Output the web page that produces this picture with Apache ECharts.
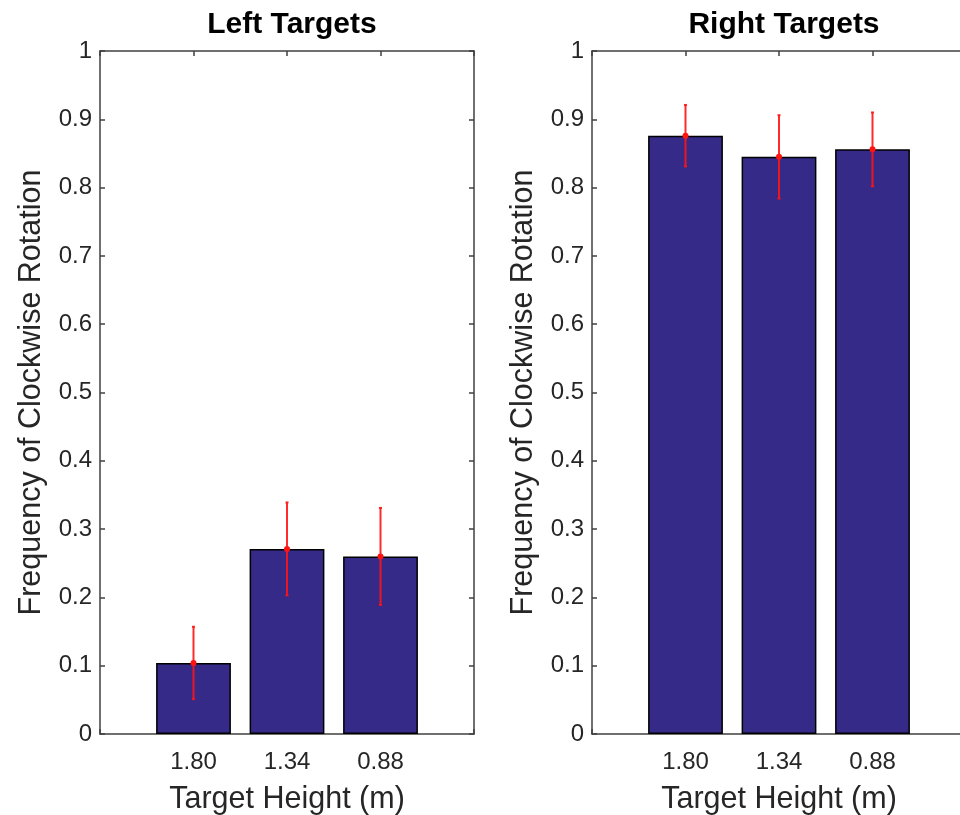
<!DOCTYPE html>
<html>
<head>
<meta charset="utf-8">
<script src="https://cdn.jsdelivr.net/npm/echarts@6/dist/echarts.min.js"></script>
<style>
  html, body { margin: 0; padding: 0; background: #fff; }
  #chart { width: 960px; height: 815px; }
</style>
</head>
<body>
<div id="chart"></div>
<script>
// Target heights (m), one bar per height
const heightLabels = ['1.80', '1.34', '0.88'];
const panelTitles = ['Left Targets', 'Right Targets'];

// Mean frequency of clockwise rotation per target height
const leftMeans  = [0.104, 0.271, 0.260];
const rightMeans = [0.876, 0.845, 0.856];

// Error-bar half-widths
const leftErr  = [0.053, 0.068, 0.071];
const rightErr = [0.045, 0.061, 0.054];

const FONT = 'Liberation Sans, Arial, Helvetica, sans-serif';
const TEXT = '#262626';
const AXIS = '#404040';
const BAR = '#352a87';

const chart = echarts.init(document.getElementById('chart'), null, { renderer: 'canvas' });

const gridLeft = [100, 592];
const grids = gridLeft.map(l => ({
  left: l, top: 51, width: 374, height: 683,
  containLabel: false, outerBoundsMode: 'none'
}));

function yLabel(v) {
  if (v === 0) return '0';
  if (v === 1) return '1';
  return v.toFixed(1);
}

const xAxes = [], yAxes = [], series = [], titles = [];
[leftMeans, rightMeans].forEach((means, g) => {
  const errs = g === 0 ? leftErr : rightErr;
  const xi = xAxes.length, yi = yAxes.length;
  // bottom axis with the height labels
  xAxes.push({
    type: 'value', gridIndex: g, min: 0, max: 4, interval: 1, position: 'bottom',
    name: 'Target Height (m)', nameLocation: 'middle', nameGap: 50,
    nameTextStyle: { fontFamily: FONT, fontSize: 30.5, color: TEXT },
    axisLine: { show: true, onZero: false, lineStyle: { color: AXIS, width: 1.5 } },
    axisTick: { show: true, inside: true, length: 5, lineStyle: { color: AXIS, width: 1.5 } },
    axisLabel: {
      fontFamily: FONT, fontSize: 24, color: TEXT, margin: 16,
      formatter: v => (v >= 1 && v <= 3) ? heightLabels[v - 1] : ''
    },
    splitLine: { show: false }
  });
  // top mirror axis (box)
  xAxes.push({
    type: 'value', gridIndex: g, min: 0, max: 4, interval: 1, position: 'top',
    axisLine: { show: true, onZero: false, lineStyle: { color: AXIS, width: 1.5 } },
    axisTick: { show: true, inside: true, length: 5, lineStyle: { color: AXIS, width: 1.5 } },
    axisLabel: { show: false }, splitLine: { show: false }
  });
  yAxes.push({
    type: 'value', gridIndex: g, min: 0, max: 1, interval: 0.1, position: 'left',
    name: 'Frequency of Clockwise Rotation', nameLocation: 'middle', nameGap: 53,
    nameTextStyle: { fontFamily: FONT, fontSize: 30.5, color: TEXT },
    axisLine: { show: true, onZero: false, lineStyle: { color: AXIS, width: 1.5 } },
    axisTick: { show: true, inside: true, length: 5, lineStyle: { color: AXIS, width: 1.5 } },
    axisLabel: { fontFamily: FONT, fontSize: 24, color: TEXT, margin: 8, formatter: yLabel },
    splitLine: { show: false }
  });
  // right mirror axis (box)
  yAxes.push({
    type: 'value', gridIndex: g, min: 0, max: 1, interval: 0.1, position: 'right',
    axisLine: { show: true, onZero: false, lineStyle: { color: AXIS, width: 1.5 } },
    axisTick: { show: true, inside: true, length: 5, lineStyle: { color: AXIS, width: 1.5 } },
    axisLabel: { show: false }, splitLine: { show: false }
  });

  series.push({
    type: 'bar', xAxisIndex: xi, yAxisIndex: yi,
    barWidth: '80%',
    data: means.map((m, i) => [i + 1, m]),
    itemStyle: { color: BAR, borderColor: '#000', borderWidth: 1.5 },
    animation: false, z: 2
  });
  series.push({
    type: 'custom', xAxisIndex: xi, yAxisIndex: yi,
    data: means.map((m, i) => [i + 1, m - errs[i], m + errs[i], m]),
    renderItem: (params, api) => {
      const lo = api.coord([api.value(0), api.value(1)]);
      const hi = api.coord([api.value(0), api.value(2)]);
      const mid = api.coord([api.value(0), api.value(3)]);
      const cap = 1.5;
      const st = { stroke: '#ff1414', lineWidth: 2, opacity: 0.9 };
      return {
        type: 'group',
        children: [
          { type: 'line', shape: { x1: lo[0], y1: lo[1], x2: hi[0], y2: hi[1] }, style: st },
          { type: 'line', shape: { x1: lo[0] - cap, y1: lo[1], x2: lo[0] + cap, y2: lo[1] }, style: st },
          { type: 'line', shape: { x1: hi[0] - cap, y1: hi[1], x2: hi[0] + cap, y2: hi[1] }, style: st },
          { type: 'circle', shape: { cx: mid[0], cy: mid[1], r: 3 }, style: { fill: '#ff1414' } }
        ]
      };
    },
    animation: false, z: 5
  });

  titles.push({
    text: panelTitles[g],
    left: gridLeft[g] + 187, top: 5, textAlign: 'center',
    textStyle: { fontFamily: FONT, fontSize: 30, fontWeight: 'bold', color: '#000' }
  });
});

chart.setOption({
  backgroundColor: '#fff',
  animation: false,
  title: titles,
  grid: grids,
  xAxis: xAxes,
  yAxis: yAxes,
  series: series
});
</script>
</body>
</html>
